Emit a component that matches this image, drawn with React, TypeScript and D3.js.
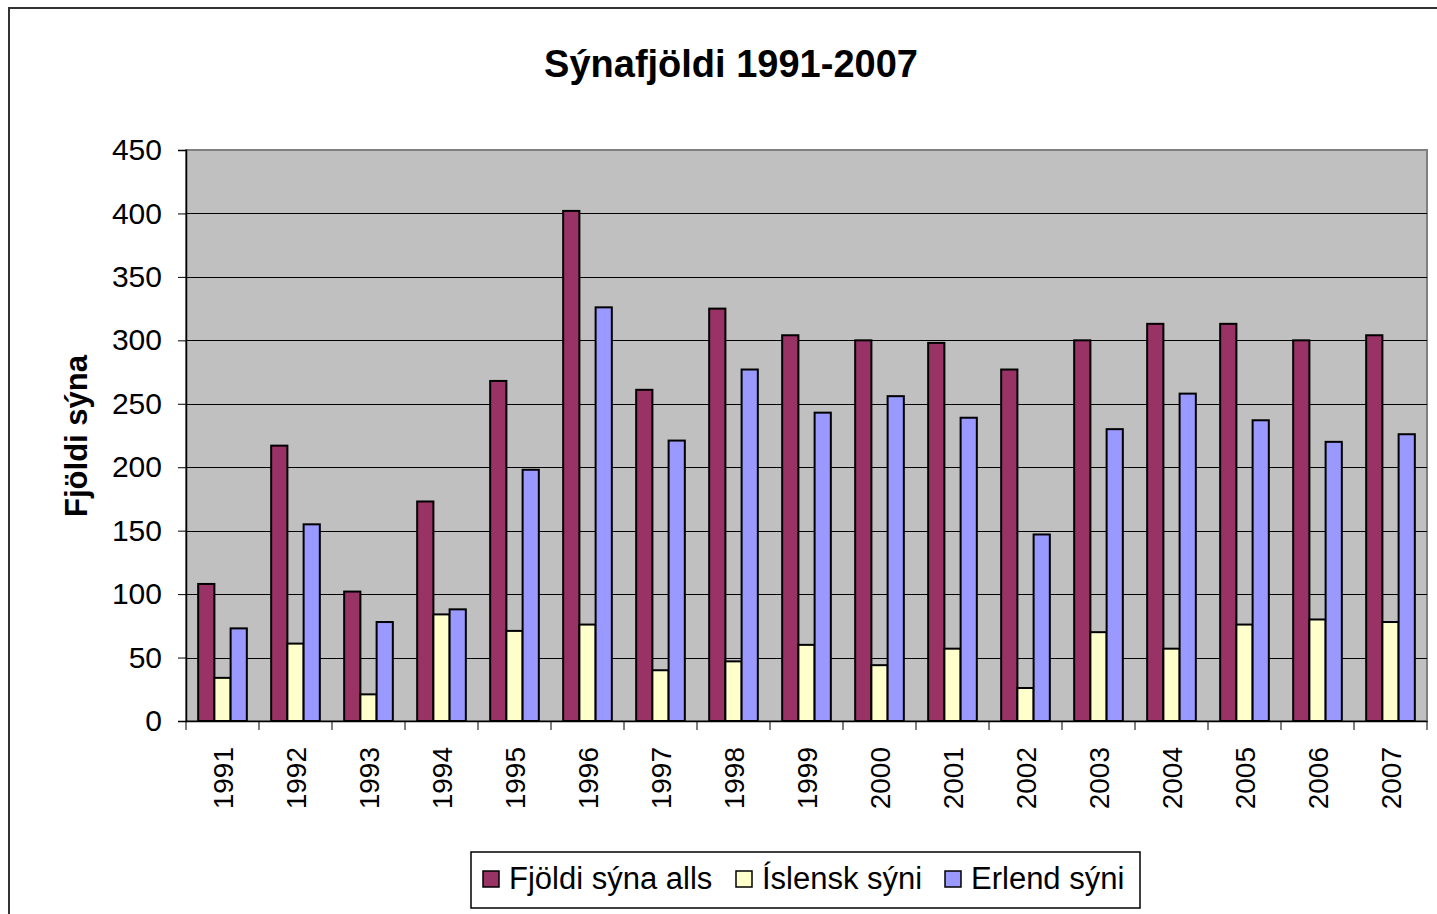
import { useRef, useEffect } from "react";
import * as d3 from "d3";

// ── Data ──────────────────────────────────────────────────────────────────────

const YEARS = [
  "1991", "1992", "1993", "1994", "1995", "1996", "1997", "1998", "1999",
  "2000", "2001", "2002", "2003", "2004", "2005", "2006", "2007",
];
const TOTAL = [108, 217, 102, 173, 268, 402, 261, 325, 304, 300, 298, 277, 300, 313, 313, 300, 304];
const ICELANDIC = [34, 61, 21, 84, 71, 76, 40, 47, 60, 44, 57, 26, 70, 57, 76, 80, 78];
const FOREIGN = [73, 155, 78, 88, 198, 326, 221, 277, 243, 256, 239, 147, 230, 258, 237, 220, 226];
const SERIES_NAMES = ["Fjöldi sýna alls", "Íslensk sýni", "Erlend sýni"];
const Y_TICKS = [0, 50, 100, 150, 200, 250, 300, 350, 400, 450];

// ── Constants ─────────────────────────────────────────────────────────────────

const W = 1437;
const H = 914;
const PLOT = { left: 186, right: 1427, top: 150, bottom: 721 };
const COLORS = ["#993366", "#FFFFCC", "#9999FF"];
const FONT = "Arial, 'Liberation Sans', sans-serif";

function render(svg: SVGSVGElement) {
  const root = d3.select(svg);
  root.selectAll("*").remove();

  // chart area border
  root.append("rect")
    .attr("x", 9).attr("y", 8).attr("width", W).attr("height", H)
    .attr("fill", "#fff").attr("stroke", "#333").attr("stroke-width", 2);

  const x = d3.scaleBand().domain(YEARS).range([PLOT.left, PLOT.right]).paddingInner(0).paddingOuter(0);
  const y = d3.scaleLinear().domain([0, 450]).range([PLOT.bottom, PLOT.top]);
  const bw = x.bandwidth() / 4.5;
  const x1 = d3.scaleBand().domain(["0", "1", "2"]).range([0, bw * 3]);
  const groupOff = (x.bandwidth() - bw * 3) / 2;

  // plot area
  root.append("rect")
    .attr("x", PLOT.left).attr("y", PLOT.top)
    .attr("width", PLOT.right - PLOT.left).attr("height", PLOT.bottom - PLOT.top)
    .attr("fill", "#C0C0C0").attr("stroke", "#808080").attr("stroke-width", 2);

  // grid lines
  root.append("g")
    .selectAll("line")
    .data(Y_TICKS.filter((t) => t > 0 && t < 450))
    .join("line")
    .attr("x1", PLOT.left).attr("x2", PLOT.right)
    .attr("y1", (d) => Math.round(y(d)) + 0.5).attr("y2", (d) => Math.round(y(d)) + 0.5)
    .attr("stroke", "#000").attr("stroke-width", 1);

  // bars
  const series = [TOTAL, ICELANDIC, FOREIGN];
  series.forEach((vals, si) => {
    root.append("g")
      .selectAll("rect")
      .data(vals)
      .join("rect")
      .attr("x", (_, i) => (x(YEARS[i]) ?? 0) + groupOff + (x1(String(si)) ?? 0))
      .attr("y", (d) => y(d))
      .attr("width", bw)
      .attr("height", (d) => y(0) - y(d))
      .attr("fill", COLORS[si])
      .attr("stroke", "#000")
      .attr("stroke-width", 2);
  });

  // Y axis
  const yAxis = root.append("g")
    .attr("transform", `translate(${PLOT.left},0)`)
    .call(d3.axisLeft(y).tickValues(Y_TICKS).tickSize(8).tickPadding(16));
  yAxis.select(".domain").attr("stroke", "#000").attr("stroke-width", 1.5);
  yAxis.selectAll("line").attr("stroke", "#000");
  yAxis.selectAll("text").attr("font-size", 30).attr("font-family", FONT).attr("fill", "#000");

  // X axis
  const xAxis = root.append("g")
    .attr("transform", `translate(0,${PLOT.bottom})`)
    .call(d3.axisBottom(x).tickSize(0));
  xAxis.select(".domain").attr("stroke", "#000").attr("stroke-width", 1.5);
  xAxis.selectAll("text")
    .attr("font-size", 28).attr("font-family", FONT).attr("fill", "#000")
    .attr("transform", "rotate(-90)")
    .attr("text-anchor", "end")
    .attr("x", -26).attr("y", 0).attr("dy", "0.36em");
  root.append("g")
    .selectAll("line")
    .data(YEARS.concat(["end"]))
    .join("line")
    .attr("x1", (_, i) => PLOT.left + i * x.bandwidth())
    .attr("x2", (_, i) => PLOT.left + i * x.bandwidth())
    .attr("y1", PLOT.bottom).attr("y2", PLOT.bottom + 9)
    .attr("stroke", "#000");

  // titles
  root.append("text")
    .attr("x", 731).attr("y", 77).attr("text-anchor", "middle")
    .attr("font-size", 38).attr("font-weight", "bold").attr("font-family", FONT)
    .text("Sýnafjöldi 1991-2007");
  root.append("text")
    .attr("transform", `translate(87,436) rotate(-90)`)
    .attr("text-anchor", "middle")
    .attr("font-size", 31).attr("font-weight", "bold").attr("font-family", FONT)
    .text("Fjöldi sýna");

  // legend
  const lg = root.append("g");
  lg.append("rect")
    .attr("x", 471).attr("y", 852).attr("width", 669).attr("height", 56)
    .attr("fill", "#fff").attr("stroke", "#000").attr("stroke-width", 1.5);
  const items = [
    { x: 483, tx: 509 },
    { x: 736, tx: 762 },
    { x: 945, tx: 971 },
  ];
  SERIES_NAMES.forEach((name, i) => {
    lg.append("rect")
      .attr("x", items[i].x).attr("y", 871).attr("width", 16).attr("height", 16)
      .attr("fill", COLORS[i]).attr("stroke", "#000").attr("stroke-width", 1.5);
    lg.append("text")
      .attr("x", items[i].tx).attr("y", 889)
      .attr("font-size", 31).attr("font-family", FONT)
      .text(name);
  });
}

export default function App() {
  const ref = useRef<SVGSVGElement>(null);
  useEffect(() => {
    if (ref.current) render(ref.current);
  }, []);
  return (
    <svg
      ref={ref}
      width={W}
      height={H}
      style={{ position: "absolute", left: 0, top: 0, background: "#fff" }}
    />
  );
}
